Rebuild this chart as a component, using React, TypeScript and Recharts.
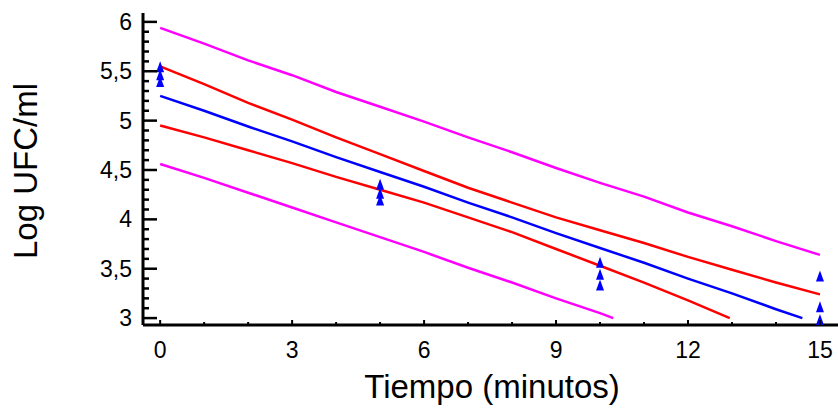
import React from "react";
import { ComposedChart, Line, Scatter, XAxis, YAxis, Label } from "recharts";

// tiempo en minutos
const xs = [0, 1, 2, 3, 4, 5, 6, 7, 8, 9, 10, 11, 12, 13, 14, 15];

// recta ajustada (azul)
const fitX = [0, 1, 2, 3, 4, 5, 6, 7, 8, 9, 10, 11, 12, 13, 14, 14.6];
const fitY = [5.25, 5.1, 4.94, 4.79, 4.63, 4.48, 4.33, 4.17, 4.02, 3.86, 3.71, 3.56, 3.4, 3.25, 3.09, 3.0];

// límites de confianza para la media (rojo)
const confUpper = [5.55, 5.37, 5.18, 5.01, 4.83, 4.66, 4.49, 4.32, 4.17, 4.02, 3.89, 3.76, 3.62, 3.49, 3.36, 3.24];
const confLowerX = [0, 1, 2, 3, 4, 5, 6, 7, 8, 9, 10, 11, 12, 12.95];
const confLower = [4.95, 4.83, 4.7, 4.57, 4.43, 4.3, 4.17, 4.02, 3.87, 3.7, 3.53, 3.36, 3.18, 3.0];

// límites de predicción (magenta)
const predUpper = [5.94, 5.78, 5.61, 5.46, 5.29, 5.14, 4.99, 4.83, 4.68, 4.52, 4.37, 4.23, 4.07, 3.93, 3.78, 3.64];
const predLowerX = [0, 1, 2, 3, 4, 5, 6, 7, 8, 9, 10, 10.3];
const predLower = [4.56, 4.42, 4.27, 4.12, 3.97, 3.82, 3.67, 3.51, 3.36, 3.2, 3.05, 3.0];

// observaciones
const obsX = [0, 0, 0, 5, 5, 5, 10, 10, 10, 15, 15, 15];
const obsY = [5.54, 5.46, 5.39, 4.35, 4.26, 4.19, 3.56, 3.44, 3.33, 3.42, 3.11, 2.98];

// ejes
const xMajor = [0, 3, 6, 9, 12, 15];
const xLabels = ["0", "3", "6", "9", "12", "15"];
const yMajor = [3, 3.5, 4, 4.5, 5, 5.5, 6];
const yLabels = ["3", "3,5", "4", "4,5", "5", "5,5", "6"];

const pairs = (x: number[], y: number[]) => x.map((v, i) => ({ x: v, y: y[i] }));

const fitData = pairs(fitX, fitY);
const confUpperData = pairs(xs, confUpper);
const confLowerData = pairs(confLowerX, confLower);
const predUpperData = pairs(xs, predUpper);
const predLowerData = pairs(predLowerX, predLower);
const obsData = pairs(obsX, obsY);

const xTicks = xs;
const yTicks = Array.from({ length: 31 }, (_, i) => Math.round((3 + i * 0.1) * 10) / 10);

const FONT = "Arial, 'Liberation Sans', sans-serif";

function XTick(props: any) {
  const { x, y, payload } = props;
  const idx = xMajor.indexOf(payload.value);
  const major = idx >= 0;
  return (
    <g>
      <line x1={x} y1={y} x2={x} y2={y - (major ? 5 : 3)} stroke="#000" strokeWidth={2} />
      {major && (
        <text x={x} y={y + 33} textAnchor="middle" fontSize={23} fontFamily={FONT} fill="#000">
          {xLabels[idx]}
        </text>
      )}
    </g>
  );
}

function YTick(props: any) {
  const { x, y, payload } = props;
  const idx = yMajor.findIndex((v) => Math.abs(v - payload.value) < 1e-6);
  const major = idx >= 0;
  return (
    <g>
      <line x1={x} y1={y} x2={x + (major ? 14 : 6)} y2={y} stroke="#000" strokeWidth={2.5} />
      {major && (
        <text x={x - 11} y={y + 8} textAnchor="end" fontSize={23} fontFamily={FONT} fill="#000">
          {yLabels[idx]}
        </text>
      )}
    </g>
  );
}

function Triangle(props: any) {
  const { cx, cy } = props;
  return <polygon points={`${cx},${cy - 6} ${cx - 4},${cy + 5} ${cx + 4},${cy + 5}`} fill="#0000ff" />;
}

export default function App() {
  return (
    <div style={{ position: "absolute", left: 0, top: 0 }}>
      <ComposedChart width={838} height={409} margin={{ top: 13, right: 0, bottom: 54, left: 83 }}>
        <XAxis
          type="number"
          dataKey="x"
          domain={[-0.39, 15.41]}
          allowDataOverflow
          ticks={xTicks}
          interval={0}
          tick={<XTick />}
          tickLine={false}
          tickSize={0}
          tickMargin={0}
          height={30}
          axisLine={{ stroke: "#000", strokeWidth: 3 }}
        >
          <Label
            content={() => (
              <text x={492} y={398} textAnchor="middle" fontSize={33} fontFamily={FONT} fill="#000">
                Tiempo (minutos)
              </text>
            )}
          />
        </XAxis>
        <YAxis
          type="number"
          dataKey="y"
          domain={[2.93, 6.09]}
          allowDataOverflow
          ticks={yTicks}
          interval={0}
          tick={<YTick />}
          tickLine={false}
          tickSize={0}
          tickMargin={0}
          width={60}
          axisLine={{ stroke: "#000", strokeWidth: 3 }}
        >
          <Label
            content={() => (
              <text
                x={37}
                y={171}
                transform="rotate(-90, 37, 171)"
                textAnchor="middle"
                fontSize={33}
                fontFamily={FONT}
                fill="#000"
              >
                Log UFC/ml
              </text>
            )}
          />
        </YAxis>
        <Line data={predUpperData} dataKey="y" stroke="#ff00ff" strokeWidth={2.5} dot={false} isAnimationActive={false} />
        <Line data={predLowerData} dataKey="y" stroke="#ff00ff" strokeWidth={2.5} dot={false} isAnimationActive={false} />
        <Line data={confUpperData} dataKey="y" stroke="#ff0000" strokeWidth={2.5} dot={false} isAnimationActive={false} />
        <Line data={confLowerData} dataKey="y" stroke="#ff0000" strokeWidth={2.5} dot={false} isAnimationActive={false} />
        <Line data={fitData} dataKey="y" stroke="#0000ff" strokeWidth={2.5} dot={false} isAnimationActive={false} />
        <Scatter data={obsData} dataKey="y" shape={<Triangle />} isAnimationActive={false} />
      </ComposedChart>
    </div>
  );
}
